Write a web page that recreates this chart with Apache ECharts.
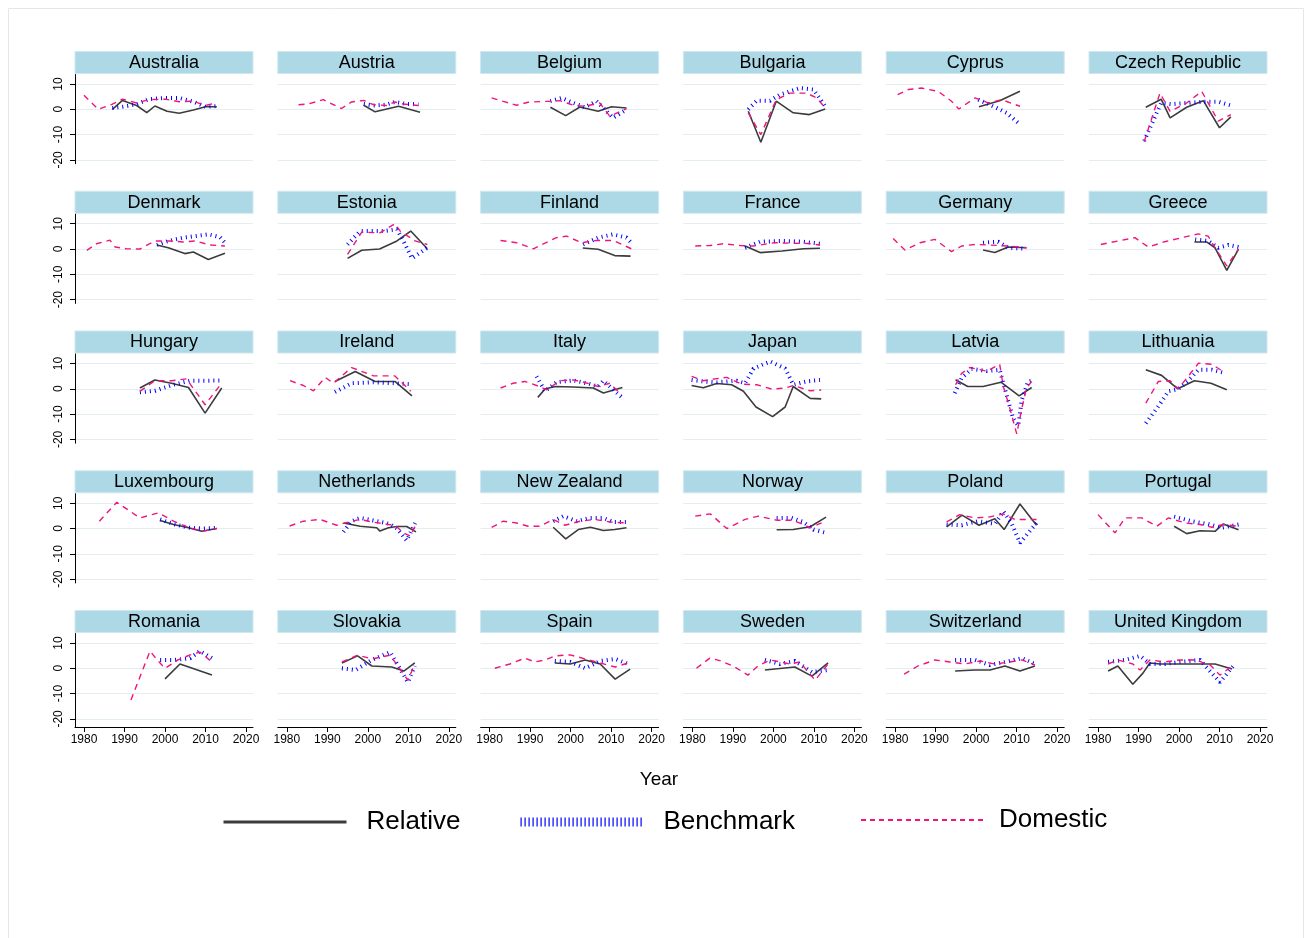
<!DOCTYPE html>
<html>
<head>
<meta charset="utf-8">
<script src="https://cdn.jsdelivr.net/npm/echarts@6/dist/echarts.min.js"></script>
<style>
html, body { margin: 0; padding: 0; background: #ffffff; }
#chart { width: 1311px; height: 938px; }
</style>
</head>
<body>
<div id="chart"></div>
<script>
// Panels, one per country, in reading order (6 per row)
const countries = ['Australia', 'Austria', 'Belgium', 'Bulgaria', 'Cyprus', 'Czech Republic',
  'Denmark', 'Estonia', 'Finland', 'France', 'Germany', 'Greece',
  'Hungary', 'Ireland', 'Italy', 'Japan', 'Latvia', 'Lithuania',
  'Luxembourg', 'Netherlands', 'New Zealand', 'Norway', 'Poland', 'Portugal',
  'Romania', 'Slovakia', 'Spain', 'Sweden', 'Switzerland', 'United Kingdom'];

const seriesNames = ['Relative', 'Benchmark', 'Domestic'];
const yearTicks = [1980, 1990, 2000, 2010, 2020];
const valueTicks = [-20, -10, 0, 10];

// [year, value] pairs per country, same order as countries
const relative = [
  [[1987,0],[1989.5,3.5],[1993,1.5],[1995.5,-1.3],[1997.5,1.3],[2000.5,-0.8],[2003.5,-1.6],[2007,-0.3],[2010,1],[2012.8,1]],
  [[1999,1.6],[2001.8,-1],[2007.6,1.2],[2012.9,-1.2]],
  [[1995,0.8],[1998.8,-2.5],[2002.3,0.9],[2006.8,-0.8],[2010.1,1],[2013.8,0.5]],
  [[1993.8,-0.8],[1996.9,-13],[2000.7,3.2],[2004.9,-1.4],[2008.9,-2.1],[2012.8,0.1]],
  [[2000.7,1],[2005.8,3.4],[2010.8,7.1]],
  [[1991.8,0.8],[1995.6,4],[1997.8,-3.4],[2001.9,0.8],[2006,3.4],[2010,-7.3],[2012.8,-3]],
  [[1998,1.6],[2000.8,0.5],[2004.9,-1.8],[2007,-1.2],[2010.7,-4.1],[2014.8,-1.7]],
  [[1995,-3.7],[1998.5,-0.5],[2002.9,0],[2007.2,3.2],[2010.6,7.1],[2014.7,0.1]],
  [[2003,0.4],[2006.8,-0.1],[2010.9,-2.6],[2014.8,-2.8]],
  [[1993,1.2],[1996.7,-1.4],[2002.1,-0.8],[2007.4,0.1],[2011.5,0.3]],
  [[2001.7,-0.4],[2004.6,-1.4],[2007.9,0.8],[2012.4,0.5]],
  [[2003.8,2.8],[2006.8,2.8],[2008.9,0.5],[2011.8,-8.4],[2014.7,0]],
  [[1993.8,0.3],[1997.5,3.5],[2001.6,2.2],[2005.8,0.5],[2009.9,-9.6],[2014,0.3]],
  [[1991.9,2.9],[1996.9,6.8],[2001.8,2.9],[2006.7,2.9],[2010.9,-2.8]],
  [[1991.9,-3.4],[1993.7,-0.1],[1996.1,0.9],[2000.7,0.7],[2005.6,0.3],[2008.1,-1.7],[2012.8,0.5]],
  [[1979.8,1.3],[1982.7,0.4],[1986,2.1],[1989.7,1.6],[1992.6,-1],[1995.7,-7.2],[1999.8,-11],[2002.9,-7.2],[2004.9,0.9],[2009.1,-3.8],[2011.8,-4]],
  [[1994.9,3.6],[1997.9,0.9],[2001.7,0.9],[2006.1,2.6],[2010.6,-2.8],[2013.7,0.5]],
  [[1991.8,7.5],[1995.7,5.3],[1999.7,0],[2003.8,3.2],[2007.9,2.2],[2011.8,-0.4]],
  [[1998.8,3.2],[2002.1,1.6],[2005.8,0.3],[2009.1,-1.1],[2012.8,0]],
  [[1994,2.2],[1998.1,0.9],[2002.2,0.3],[2003,-1],[2005.1,0.3],[2007.2,0.8],[2009.6,0.8],[2011.9,-1.3]],
  [[1995.7,0.5],[1998.8,-4.1],[2001.9,-0.4],[2004.9,0.5],[2008.1,-0.8],[2010.9,-0.4],[2013.8,0.3]],
  [[2000.8,-0.5],[2004.9,-0.4],[2009.1,0.7],[2013,4.5]],
  [[1992.7,0.7],[1996.5,5.3],[2000.7,1.3],[2004.6,3.9],[2006.9,-0.4],[2010.8,9.7],[2014.9,1.3]],
  [[1998.8,0.9],[2001.9,-2],[2005.2,-0.9],[2008.9,-1.1],[2010.9,1.8],[2014.7,-0.5]],
  [[2000,-4.2],[2003.7,1.7],[2011.6,-2.7]],
  [[1993.6,2.1],[1997.5,4.9],[2001,0.9],[2005.9,0.5],[2008.9,-1.1],[2011.6,2.1]],
  [[1996.1,2.1],[1999.9,1.7],[2003.6,3.3],[2007.3,1.7],[2011,-4.3],[2014.7,-0.3]],
  [[1997.9,-0.7],[2005.3,0.5],[2009.5,-3.1],[2013.5,2.1]],
  [[1994.8,-1.1],[1999.7,-0.7],[2003.4,-0.7],[2007.1,0.9],[2010.8,-1.1],[2014.5,0.9]],
  [[1982.5,-1.1],[1984.9,0.9],[1988.6,-6.3],[1991.1,-1.9],[1992.8,2.1],[1995.3,1.7],[2000.2,1.7],[2005.2,1.7],[2008.9,1.7],[2013.1,-0.3]]
];

const benchmark = [
  [[1987,0.5],[1989.5,1],[1993,2],[1996,4],[2000,4.5],[2003.5,4.5],[2007,3],[2010,1],[2012.8,1.2]],
  [[1999,2.1],[2001.4,1.5],[2004.5,1.8],[2006.7,2.9],[2009.5,2.1],[2012.5,2]],
  [[1995,3.2],[1997.8,4.5],[2000.7,2.5],[2003.5,0.8],[2006.4,3.2],[2008.9,-0.8],[2010.5,-3.4],[2013.8,-0.1]],
  [[1993.8,0],[1995.9,3.4],[1999.2,3.4],[2001.6,5.8],[2006.6,8.4],[2009.9,7.8],[2012.8,1.2]],
  [[2000.5,3.8],[2003.4,1.8],[2007.5,-1.4],[2010.8,-6]],
  [[1991.4,-12.5],[1995.6,2.5],[1998,2],[2002,2.5],[2006,3],[2009.7,3],[2012.8,1.5]],
  [[1998,1.6],[2000.8,3.2],[2004.5,4.5],[2007.4,5.1],[2010.7,5.8],[2013.6,4.7],[2014.8,2.5]],
  [[1995,1.8],[1998.1,7.1],[2003.9,7.1],[2007.2,7.8],[2008.8,3.2],[2010.9,-3.7],[2014.7,0.5]],
  [[2003.1,1.8],[2006.8,4.5],[2010.5,5.8],[2013.8,4.5],[2015,2.5]],
  [[1993,0.5],[1996.7,2.9],[2002.5,3.2],[2007.4,2.9],[2011.5,2.1]],
  [[2001.7,2.5],[2005.4,2.9],[2007.9,0.5],[2012.4,0.1]],
  [[2004,3.8],[2007.2,3.2],[2009.7,0.5],[2012.2,1.6],[2014.7,0.8]],
  [[1993.8,-1.4],[1997.5,-0.8],[2002,1.6],[2006.2,3.2],[2010.3,3.2],[2014,3.3]],
  [[1991.9,-1.3],[1996,2.2],[2001.4,2.6],[2006.7,2.2],[2010.5,1.8]],
  [[1991.6,4.9],[1993.7,-1],[1996.5,2.6],[2000.7,3.3],[2004,2.2],[2006.8,0.9],[2008.1,3.2],[2012.6,-3.3]],
  [[1979.8,3.5],[1982.7,2.9],[1986,2.6],[1990.9,3.2],[1993,2.2],[1995.1,8],[1999.2,10.8],[2002.9,8],[2004.9,1.6],[2008.2,2.9],[2011.5,3.5]],
  [[1994.7,-1.7],[1996.4,4.2],[1998.9,7.9],[2002.6,7],[2005.8,7.5],[2007.5,-2.4],[2009.1,-11.6],[2010.4,-14.6],[2011.2,-4.7],[2012.8,2.9],[2013.7,3.2]],
  [[1991.8,-13.6],[1994.9,-6.9],[1997.4,-1],[1999.8,-0.1],[2002.3,3.2],[2004.8,7.5],[2008.1,7.5],[2010.9,6.4]],
  [[1998.8,3.6],[2002.1,1.8],[2005.8,0.3],[2009.1,0],[2012.8,0.3]],
  [[1994,-1.3],[1996,2.9],[1998.1,4.2],[2001.4,3.2],[2005.5,1.8],[2007.2,0],[2009.6,-4.7],[2011.9,2.9]],
  [[1995.7,2.9],[1998.2,4.9],[2001.5,2.9],[2004.8,4.2],[2008.1,4.2],[2010.5,2.6],[2013.8,2.6]],
  [[2000.8,4.2],[2004.5,4.2],[2007.4,2.6],[2009.9,-0.4],[2013,-1.7]],
  [[1992.7,1.6],[1996.4,1.3],[2000.5,2.9],[2004.6,1.8],[2006.7,6.8],[2008.7,2.2],[2010.8,-5.7],[2014.9,2.2]],
  [[1998.8,4.7],[2003.1,2.9],[2007.2,1.8],[2010.5,0.3],[2014.7,1.6]],
  [[1998.8,3.3],[2002.5,3.3],[2006.2,4],[2008.6,6.8],[2011.6,4]],
  [[1993.6,0],[1997,-0.7],[2001,3.3],[2005.5,6.4],[2009.9,-5.5],[2011.6,0.9]],
  [[1996.1,2.9],[1999.9,2.5],[2003.6,0],[2007.3,2.9],[2011,3.7],[2014.2,1.7]],
  [[1997.9,3.3],[2001.6,1.7],[2005.3,2.9],[2009.5,-1.5],[2013.5,-0.7]],
  [[1994.8,3.3],[1999.7,3.3],[2003.4,1.3],[2007.1,2.5],[2011.3,4],[2014.5,1.7]],
  [[1982.5,2.5],[1986.7,3.3],[1990.4,4.9],[1992.8,1.7],[1996.5,1.7],[2000.2,2.5],[2005.2,3.3],[2010.1,-5.5],[2013.8,1.7]]
];

const domestic = [
  [[1980,5.5],[1983.5,0],[1987,2],[1989.5,4],[1993,2.5],[1996,3.8],[2000,4],[2003.5,3],[2007,3.2],[2010,1.5],[2012.5,2.5]],
  [[1982.9,1.8],[1985.3,2.1],[1989,3.8],[1993.5,0.3],[1996,2.9],[1999,3.5],[2001.4,1.8],[2004.6,1.5],[2006.7,2.9],[2008.7,2.1],[2012.5,1.5]],
  [[1980.5,4.5],[1983.4,3.1],[1986.7,1.6],[1989.5,2.8],[1994.9,3.2],[1997.4,3.4],[2000.7,1.6],[2003.5,1.2],[2007.2,2.5],[2009.7,-2.8],[2013.8,0.3]],
  [[1993.8,-1.4],[1996.9,-10],[2000.7,3.8],[2004.1,6.4],[2008.2,6.4],[2010.7,4.5],[2012.8,0.5]],
  [[1980.6,5.8],[1983.2,7.8],[1986.5,8.4],[1990.6,7.1],[1993.9,3.2],[1995.7,0.1],[1999.7,4.5],[2003,2.5],[2006.3,3.8],[2010.8,1.2]],
  [[1991.4,-12.8],[1995.3,6.4],[1997.8,-0.8],[2001.9,2.5],[2005.6,7.1],[2009.7,-4.7],[2012.8,-2.1]],
  [[1980.7,-0.5],[1983.1,2.1],[1986.4,3.5],[1987.7,0.8],[1990.5,0.1],[1993.8,0],[1997.5,3.2],[2001.2,3.2],[2004.5,2.8],[2007.4,3.2],[2011.1,1.6],[2014.8,1.2]],
  [[1995,-2.1],[1998.5,6.7],[2003,6.4],[2006.7,10],[2008,7.1],[2011.7,3.2],[2014.7,1.8]],
  [[1982.7,3.4],[1986.7,2.5],[1990.8,0.1],[1996.5,4.5],[1999,5.1],[2002.7,2.5],[2006.4,3.4],[2010.5,3.4],[2015,0.1]],
  [[1980.7,1.2],[1984.4,1.4],[1987.7,2.1],[1991.8,1.4],[1995.1,1.2],[2000.3,2.5],[2005,2.3],[2008.5,2.2],[2011.5,1.6]],
  [[1979.5,4.2],[1982.4,-0.4],[1986.1,2.5],[1989.8,3.8],[1993.9,-1],[1996.4,1.2],[1999.7,1.8],[2003,1.6],[2007.9,1.2],[2012.4,0.5]],
  [[1980.7,1.8],[1985,3.2],[1989.1,4.5],[1992.4,0.8],[1996.5,2.9],[2000.7,4.5],[2004.8,6],[2007.2,5.1],[2008.9,0.5],[2011.8,-6.7],[2014.7,0]],
  [[1993.8,-1],[1997.5,3.2],[2001.6,3.2],[2005.3,3.9],[2009.9,-6.3],[2014,2.2]],
  [[1980.8,3.2],[1984.1,1.3],[1986.6,-0.8],[1989.5,4.5],[1991.5,2.2],[1996,8.4],[2001.4,5.1],[2006.7,5.1],[2010.6,-1]],
  [[1982.7,0.3],[1985.8,2.2],[1988.7,2.9],[1991.6,1.3],[1994.1,-0.4],[1997.4,3.2],[2000.7,3.5],[2003.5,2.5],[2006.8,0.9],[2009.7,2.2],[2012.6,-2.4]],
  [[1979.8,4.9],[1982.7,3.2],[1985.6,3.9],[1988.5,4.5],[1992.2,1.8],[1995.9,1.6],[1999.6,-0.1],[2002.9,0.3],[2004.9,1.3],[2009.1,-0.8],[2011.8,-0.5]],
  [[1994.9,1.6],[1996.4,6.1],[1998.4,8.4],[2002.6,7],[2005.8,9.7],[2006.7,0.9],[2008.3,-7.6],[2010,-17.8],[2011.2,-8.3],[2012.4,0.3],[2013.7,2.9]],
  [[1991.8,-5.7],[1994.9,2.9],[1997.8,3.2],[1999.8,0],[2001.9,4.2],[2004.8,10.1],[2008.1,9.7],[2010.9,6.8]],
  [[1983.8,2.9],[1988.1,10.4],[1993.8,4.2],[1998.4,6.2],[2002.1,2.9],[2005.8,0.5],[2009.1,-1.1],[2012.8,0]],
  [[1980.7,1],[1984.1,2.9],[1988.2,3.6],[1992.3,1.3],[1996,2.9],[1998.1,3.6],[2001.4,2.5],[2005.1,1.6],[2006.7,1.3],[2008.8,-1.7],[2010.5,-3],[2011.9,1.6]],
  [[1980.5,0.5],[1983.4,2.9],[1986.7,2.2],[1989.5,0.9],[1992.4,0.9],[1995.7,3.6],[1998.6,1.3],[2002.3,2.9],[2006,3.6],[2009.7,2.6],[2013.8,2.2]],
  [[1980.7,4.9],[1984.4,5.8],[1988.5,0],[1993,3.6],[1996.3,4.9],[2000.8,3.3],[2004.9,3.3],[2009.1,0.3],[2011.9,2.2]],
  [[1992.7,2.6],[1995.9,5.5],[1999.7,4.2],[2003.4,4.6],[2006.7,5.8],[2009.5,3.6],[2014.9,3.6]],
  [[1980,5.5],[1984.2,-1.7],[1986.7,4.2],[1990.8,4.2],[1994.5,0.9],[1997.4,4.2],[2001.5,2.2],[2005.2,1.6],[2008.1,0.5],[2010.9,1.6],[2014.7,0.9]],
  [[1991.6,-12.5],[1996.3,6.8],[1998.3,2.9],[2000,0],[2003.2,3.3],[2006.2,5.3],[2008.6,6.4],[2011.6,2.5]],
  [[1993.6,2.5],[1997.5,5.2],[2001,3.7],[2005.5,5.2],[2009.9,-4.7],[2011.6,1.7]],
  [[1981.3,0],[1985,1.7],[1988.7,4],[1991.2,2.5],[1993.7,3.3],[1996.1,4.9],[1999.9,5.3],[2003.6,3.7],[2007.3,2.1],[2011,0.5],[2014.2,2.1]],
  [[1981,0],[1984.3,4],[1987.1,2.9],[1990.5,0.5],[1993.7,-2.7],[1996.2,0.9],[1999.2,3.3],[2004.1,1.7],[2006.5,2.5],[2010.3,-4.7],[2013.5,1.7]],
  [[1982.2,-2.3],[1985.6,0.9],[1989.8,3.3],[1993.5,2.5],[1997.2,1.7],[2000.9,2.9],[2004.6,1.7],[2008.3,2.5],[2011.3,3.3],[2014.5,1.3]],
  [[1982.5,1.7],[1984.9,3.3],[1988.6,1.7],[1990.4,-0.7],[1992.8,3.3],[1996.5,2.5],[2000.2,3.3],[2004,3.3],[2007.7,1.3],[2010.1,-2.7],[2013.1,0.9]]
];

// ---- layout ----
const FONT = '"Liberation Sans", Arial, Helvetica, sans-serif';
const COLS = 6, ROWS = 5;
const PANEL_W = 178;
const COL_STEP = 202.8, ROW_STEP = 139.75;
const FIRST_LEFT = 75, FIRST_HEADER_TOP = 51.5, HEADER_H = 22;
const GRID_TOP0 = 74.5;
const PX_PER_UNIT = 2.53;
const PX_PER_YEAR = 4.05;
const Y_MAX = 13.75;
const X_MIN = 1980 - 9 / PX_PER_YEAR;
const X_MAX = X_MIN + PANEL_W / PX_PER_YEAR;

const lineStyles = {
  Relative: { color: '#3c3c3c', width: 1.6, type: 'solid' },
  Benchmark: { color: '#0000ff', width: 4, type: [1, 4] },
  Domestic: { color: '#f0147c', width: 1.4, type: [6, 5] }
};
const seriesData = { Relative: relative, Benchmark: benchmark, Domestic: domestic };

const grids = [], xAxes = [], yAxes = [], series = [], graphics = [];

countries.forEach((name, i) => {
  const r = Math.floor(i / COLS), c = i % COLS;
  const bottomRow = r === ROWS - 1, leftCol = c === 0;
  const yMin = bottomRow ? -23.2 : -21.5;
  const left = FIRST_LEFT + c * COL_STEP;
  const top = GRID_TOP0 + r * ROW_STEP;

  grids.push({
    left: left, top: top, width: PANEL_W, height: (Y_MAX - yMin) * PX_PER_UNIT,
    containLabel: false, outerBoundsMode: 'none'
  });

  xAxes.push({
    gridIndex: i, type: 'value', min: X_MIN, max: X_MAX,
    axisLine: { show: bottomRow, onZero: false, lineStyle: { color: '#000', width: 1 } },
    axisTick: { show: bottomRow, customValues: yearTicks, length: 5, lineStyle: { color: '#000' } },
    axisLabel: {
      show: bottomRow, customValues: yearTicks, fontSize: 12, color: '#000', margin: 7, fontFamily: FONT,
      formatter: v => String(Math.round(v))
    },
    splitLine: { show: false }
  });

  yAxes.push({
    gridIndex: i, type: 'value', min: yMin, max: Y_MAX,
    axisLine: { show: leftCol, onZero: false, lineStyle: { color: '#000', width: 1 } },
    axisTick: { show: leftCol, customValues: valueTicks, length: 5, lineStyle: { color: '#000' } },
    axisLabel: {
      show: leftCol, customValues: valueTicks, rotate: 90, fontSize: 12, color: '#000', margin: 10, fontFamily: FONT,
      formatter: v => String(Math.round(v))
    },
    splitLine: { show: true, lineStyle: { color: '#e4edf0', width: 1 } }
  });

  // panel header strip with the country name
  graphics.push({
    type: 'rect', silent: true,
    shape: { x: left, y: FIRST_HEADER_TOP + r * ROW_STEP, width: PANEL_W, height: HEADER_H },
    style: { fill: '#add8e6', stroke: '#cfe7ef', lineWidth: 1 }
  });
  graphics.push({
    type: 'text', silent: true,
    x: left + PANEL_W / 2, y: FIRST_HEADER_TOP + r * ROW_STEP + HEADER_H / 2 + 0.5,
    style: { text: name, fill: '#000', font: '18px ' + FONT, textAlign: 'center', textVerticalAlign: 'middle' }
  });

  seriesNames.forEach(sn => {
    series.push({
      name: sn, type: 'line', xAxisIndex: i, yAxisIndex: i,
      data: seriesData[sn][i], symbol: 'none', silent: true,
      lineStyle: lineStyles[sn], emphasis: { disabled: true }
    });
  });
});

// outer frame of the whole figure
graphics.push({
  type: 'rect', silent: true, z: -1,
  shape: { x: 8.5, y: 8.5, width: 1295, height: 945 },
  style: { fill: 'none', stroke: '#e6e6e6', lineWidth: 1 }
});

const legendBase = {
  top: 809, padding: 0, itemWidth: 123, itemHeight: 14, selectedMode: false,
  itemStyle: { opacity: 0 },
  textStyle: { fontSize: 26, color: '#000', fontFamily: FONT, padding: [0, 0, 0, 15] }
};

const option = {
  animation: false,
  backgroundColor: '#ffffff',
  textStyle: { fontFamily: FONT },
  title: {
    text: 'Year', left: 659, top: 770, textAlign: 'center', padding: 0,
    textStyle: { fontSize: 19, fontWeight: 'normal', color: '#000', fontFamily: FONT }
  },
  legend: [
    Object.assign({}, legendBase, { left: 222, data: [{ name: 'Relative', itemStyle: { opacity: 0 }, lineStyle: { color: '#3c3c3c', width: 3, type: 'solid' } }] }),
    Object.assign({}, legendBase, { left: 516, data: [{ name: 'Benchmark', itemStyle: { opacity: 0 }, lineStyle: { color: '#0000ff', width: 9, type: [1.2, 2.8] } }] }),
    Object.assign({}, legendBase, {
      left: 860, top: 807,
      textStyle: Object.assign({}, legendBase.textStyle, { padding: [0, 0, 0, 10] }),
      data: [{ name: 'Domestic', itemStyle: { opacity: 0 }, lineStyle: { color: '#f0147c', width: 2, type: [5, 4] } }]
    })
  ],
  grid: grids,
  xAxis: xAxes,
  yAxis: yAxes,
  series: series,
  graphic: graphics
};

const chart = echarts.init(document.getElementById('chart'));
chart.setOption(option);
</script>
</body>
</html>
